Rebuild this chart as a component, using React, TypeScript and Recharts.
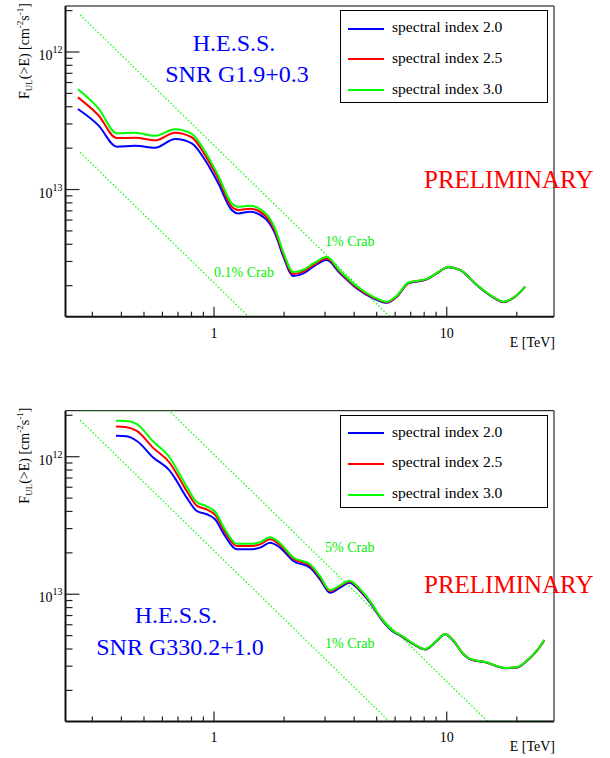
import React from "react";
import { LineChart, Line, XAxis, YAxis, Legend, ReferenceLine } from "recharts";

// axis ranges and ticks
const xMin = 0.23;
const xMax = 28.9;
const yMin = 1.19e-14;
const yMax = 2.16e-12;
const xTicks = [0.3, 0.4, 0.5, 0.6, 0.7, 0.8, 0.9, 1, 2, 3, 4, 5, 6, 7, 8, 9, 10, 20];
const yTicks = [
  2e-14, 3e-14, 4e-14, 5e-14, 6e-14, 7e-14, 8e-14, 9e-14, 1e-13,
  2e-13, 3e-13, 4e-13, 5e-13, 6e-13, 7e-13, 8e-13, 9e-13, 1e-12, 2e-12,
];
const xTickLabels: Record<string, string> = { "1": "1", "10": "10" };
const yTickExponents: Record<string, string> = { "1e-13": "13", "1e-12": "12" };

const seriesNames = ["spectral index 2.0", "spectral index 2.5", "spectral index 3.0"];
const seriesColors = ["#0000ff", "#ff0000", "#00ff00"];

// SNR G1.9+0.3
const g19Energy = [
  0.26, 0.318, 0.382, 0.458, 0.558, 0.68, 0.802, 0.915, 1.043, 1.191, 1.272, 1.428,
  1.656, 1.828, 1.986, 2.192, 2.42, 2.672, 3.05, 3.479, 4.105, 4.837, 5.524, 6.097,
  6.839, 8.208, 9.06, 10.16, 11.4, 13.46, 15.86, 17.51, 19.66, 21.71,
];
const g19Index20 = [
  3.85e-13, 2.94e-13, 2.05e-13, 2.08e-13, 2.01e-13, 2.33e-13, 2.17e-13, 1.64e-13,
  1.11e-13, 7.1e-14, 6.71e-14, 6.9e-14, 6.18e-14, 4.8e-14, 3.25e-14, 2.35e-14,
  2.46e-14, 2.75e-14, 3.07e-14, 2.46e-14, 1.91e-14, 1.62e-14, 1.5e-14, 1.66e-14,
  2.08e-14, 2.22e-14, 2.46e-14, 2.72e-14, 2.6e-14, 2.02e-14, 1.64e-14, 1.52e-14,
  1.66e-14, 1.96e-14,
];
const g19Index25 = [
  4.68e-13, 3.48e-13, 2.37e-13, 2.38e-13, 2.28e-13, 2.59e-13, 2.4e-13, 1.78e-13,
  1.2e-13, 7.52e-14, 7.1e-14, 7.26e-14, 6.48e-14, 5.01e-14, 3.37e-14, 2.43e-14,
  2.54e-14, 2.82e-14, 3.15e-14, 2.51e-14, 1.94e-14, 1.64e-14, 1.515e-14, 1.67e-14,
  2.09e-14, 2.235e-14, 2.47e-14, 2.73e-14, 2.61e-14, 2.03e-14, 1.65e-14, 1.525e-14,
  1.665e-14, 1.97e-14,
];
const g19Index30 = [
  5.36e-13, 3.91e-13, 2.56e-13, 2.59e-13, 2.46e-13, 2.74e-13, 2.54e-13, 1.89e-13,
  1.26e-13, 7.95e-14, 7.5e-14, 7.63e-14, 6.78e-14, 5.22e-14, 3.5e-14, 2.51e-14,
  2.61e-14, 2.9e-14, 3.23e-14, 2.56e-14, 1.98e-14, 1.66e-14, 1.53e-14, 1.69e-14,
  2.11e-14, 2.24e-14, 2.47e-14, 2.73e-14, 2.61e-14, 2.03e-14, 1.65e-14, 1.53e-14,
  1.67e-14, 1.97e-14,
];
const g19Crab1 = [
  { E: 0.266, F: 1.86e-12 },
  { E: 5.69, F: 1.19e-14 },
  { E: 28.5, F: 1.19e-14 },
];
const g19Crab01 = [
  { E: 0.266, F: 1.86e-13 },
  { E: 1.41, F: 1.19e-14 },
  { E: 28.5, F: 1.19e-14 },
];

// SNR G330.2+1.0
const g330Energy = [
  0.379, 0.421, 0.466, 0.549, 0.647, 0.691, 0.763, 0.843, 0.93, 1.01, 1.115, 1.252,
  1.428, 1.577, 1.741, 1.921, 2.192, 2.586, 2.854, 3.151, 3.479, 3.815, 4.241, 4.682,
  5.169, 5.706, 6.511, 7.187, 8.067, 9.06, 9.83, 10.68, 11.79, 12.59, 14.86, 17.81,
  20.0, 22.07, 24.37, 26.27,
];
const g330Index20 = [
  1.42e-12, 1.406e-12, 1.3e-12, 9.83e-13, 7.87e-13, 6.66e-13, 5.04e-13, 4.03e-13,
  3.815e-13, 3.51e-13, 2.652e-13, 2.123e-13, 2.123e-13, 2.182e-13, 2.371e-13, 2.182e-13,
  1.746e-13, 1.561e-13, 1.285e-13, 1.027e-13, 1.117e-13, 1.214e-13, 1.057e-13, 8.69e-14,
  6.76e-14, 5.57e-14, 4.837e-14, 4.33e-14, 3.97e-14, 4.575e-14, 5.12e-14, 4.575e-14,
  3.66e-14, 3.37e-14, 3.184e-14, 2.9e-14, 2.928e-14, 3.276e-14, 3.87e-14, 4.63e-14,
];
const g330Index25 = [
  1.661e-12, 1.639e-12, 1.542e-12, 1.154e-12, 8.96e-13, 7.51e-13, 5.63e-13, 4.41e-13,
  4.14e-13, 3.78e-13, 2.83e-13, 2.244e-13, 2.244e-13, 2.306e-13, 2.506e-13, 2.282e-13,
  1.809e-13, 1.614e-13, 1.325e-13, 1.053e-13, 1.144e-13, 1.238e-13, 1.077e-13, 8.82e-14,
  6.85e-14, 5.63e-14, 4.88e-14, 4.36e-14, 3.99e-14, 4.59e-14, 5.14e-14, 4.62e-14,
  3.68e-14, 3.38e-14, 3.19e-14, 2.91e-14, 2.935e-14, 3.28e-14, 3.88e-14, 4.64e-14,
];
const g330Index30 = [
  1.825e-12, 1.817e-12, 1.728e-12, 1.285e-12, 9.78e-13, 8.14e-13, 6.06e-13, 4.68e-13,
  4.36e-13, 3.98e-13, 2.957e-13, 2.327e-13, 2.327e-13, 2.391e-13, 2.599e-13, 2.352e-13,
  1.851e-13, 1.65e-13, 1.352e-13, 1.071e-13, 1.161e-13, 1.255e-13, 1.09e-13, 8.91e-14,
  6.91e-14, 5.66e-14, 4.9e-14, 4.37e-14, 4.0e-14, 4.6e-14, 5.15e-14, 4.6e-14,
  3.68e-14, 3.39e-14, 3.2e-14, 2.915e-14, 2.943e-14, 3.29e-14, 3.89e-14, 4.65e-14,
];
const g330Crab5 = [
  { E: 0.266, F: 2.16e-12 },
  { E: 0.641, F: 2.16e-12 },
  { E: 15.0, F: 1.19e-14 },
  { E: 28.5, F: 1.19e-14 },
];
const g330Crab1 = [
  { E: 0.266, F: 1.84e-12 },
  { E: 5.66, F: 1.19e-14 },
  { E: 28.5, F: 1.19e-14 },
];

const serif = "'Liberation Serif', 'DejaVu Serif', serif";

const XTick = (props: any) => {
  const { x, y, payload } = props;
  const label = xTickLabels[String(payload.value)];
  return (
    <g>
      <line x1={x} x2={x} y1={y} y2={y - (label ? 10 : 5)} stroke="#222" strokeWidth={1.2} />
      {label && (
        <text x={x} y={y + 21} textAnchor="middle" fontSize={14} fontFamily={serif} fill="#000">
          {label}
        </text>
      )}
    </g>
  );
};

const YTick = (props: any) => {
  const { x, y, payload } = props;
  const exp = yTickExponents[String(payload.value)];
  return (
    <g>
      <line x1={x} x2={x + (exp ? 14 : 7)} y1={y} y2={y} stroke="#222" strokeWidth={1.2} />
      {exp && (
        <text x={x - 3} y={y + 8} textAnchor="end" fontSize={14} fontFamily={serif} fill="#000">
          10
          <tspan dy={-7} fontSize={10}>
            {exp}
          </tspan>
        </text>
      )}
    </g>
  );
};

const LegendBox = () => (
  <div
    style={{
      width: 208,
      height: 93,
      boxSizing: "border-box",
      border: "1px solid #000",
      background: "#fff",
      position: "relative",
      fontFamily: serif,
      fontSize: 15.6,
    }}
  >
    {seriesNames.map((name, i) => (
      <div key={name}>
        <div
          style={{
            position: "absolute",
            left: 7,
            top: 16.5 + i * 30.8,
            width: 36,
            height: 2,
            background: seriesColors[i],
          }}
        />
        <div style={{ position: "absolute", left: 51, top: 7 + i * 30.8, whiteSpace: "nowrap" }}>
          {name}
        </div>
      </div>
    ))}
  </div>
);

type CrabLine = { label: string; points: { E: number; F: number }[]; lx: number; ly: number };

type PanelProps = {
  energy: number[];
  index20: number[];
  index25: number[];
  index30: number[];
  crab: CrabLine[];
  title: string[];
  titleX: number[];
  titleY: number[];
  plotTop: number;
};

const Panel = ({ energy, index20, index25, index30, crab, title, titleX, titleY, plotTop }: PanelProps) => {
  const data = energy.map((E, i) => ({ E, i20: index20[i], i25: index25[i], i30: index30[i] }));
  const plotH = 310.7;
  const bottom = 379 - plotTop - plotH - 30;
  return (
    <div style={{ position: "relative", width: 610, height: 379 }}>
      <LineChart
        width={610}
        height={379}
        data={data}
        margin={{ top: plotTop, right: 56, bottom, left: 5.5 }}
      >
        <XAxis
          dataKey="E"
          type="number"
          scale="log"
          domain={[xMin, xMax]}
          allowDataOverflow
          ticks={xTicks}
          interval={0}
          tick={(p: any) => <XTick {...p} />}
          tickLine={false}
          tickSize={0}
          tickMargin={0}
          height={30}
          axisLine={{ stroke: "#111", strokeWidth: 2 }}
        />
        <YAxis
          type="number"
          scale="log"
          domain={[yMin, yMax]}
          allowDataOverflow
          ticks={yTicks}
          interval={0}
          tick={(p: any) => <YTick {...p} />}
          tickLine={false}
          tickSize={0}
          tickMargin={0}
          width={60}
          axisLine={{ stroke: "#111", strokeWidth: 2 }}
        />
        <ReferenceLine y={yMax} stroke="#000" strokeWidth={1} />
        <ReferenceLine x={xMax} stroke="#000" strokeWidth={1} />
        {crab.map((c) => (
          <Line
            key={c.label}
            data={c.points}
            dataKey="F"
            type="linear"
            stroke="#00ff00"
            strokeWidth={1.2}
            strokeDasharray="1.5 2"
            dot={false}
            legendType="none"
            isAnimationActive={false}
          />
        ))}
        <Line dataKey="i20" name={seriesNames[0]} type="monotone" stroke={seriesColors[0]} strokeWidth={2} dot={false} isAnimationActive={false} />
        <Line dataKey="i25" name={seriesNames[1]} type="monotone" stroke={seriesColors[1]} strokeWidth={2} dot={false} isAnimationActive={false} />
        <Line dataKey="i30" name={seriesNames[2]} type="monotone" stroke={seriesColors[2]} strokeWidth={2} dot={false} isAnimationActive={false} />
        <Legend
          layout="horizontal"
          verticalAlign="middle"
          align="center"
          content={() => <LegendBox />}
          wrapperStyle={{ left: 340, top: plotTop + 4, width: 208, height: 93 }}
        />
      </LineChart>
      <svg
        width={610}
        height={379}
        style={{ position: "absolute", left: 0, top: 0, pointerEvents: "none" }}
      >
        <text transform={`translate(29, ${plotTop - 3}) rotate(-90)`} textAnchor="end" fontSize={14} fontFamily={serif} fill="#000">
          F<tspan fontSize={9} dy={3}>UL</tspan>
          <tspan dy={-3}>(&gt;E) [cm</tspan>
          <tspan fontSize={9} dy={-6}>-2</tspan>
          <tspan dy={6}>s</tspan>
          <tspan fontSize={9} dy={-6}>-1</tspan>
          <tspan dy={6}>]</tspan>
        </text>
        <text x={555} y={plotTop + plotH + 30} textAnchor="end" fontSize={14} fontFamily={serif} fill="#000">
          E [TeV]
        </text>
        {title.map((t, i) => (
          <text key={t} x={titleX[i]} y={titleY[i]} textAnchor="middle" fontSize={24} fontFamily={serif} fill="#0000ff">
            {t}
          </text>
        ))}
        <text x={424} y={plotTop + 182} fontSize={25} fontFamily={serif} fill="#ff0000">
          PRELIMINARY
        </text>
        {crab.map((c) => (
          <text key={c.label} x={c.lx} y={c.ly} fontSize={14} fontFamily={serif} fill="#00ee00">
            {c.label}
          </text>
        ))}
      </svg>
    </div>
  );
};

export default function App() {
  return (
    <div style={{ position: "absolute", left: 0, top: 0, width: 610, height: 758, background: "#fff" }}>
      <Panel
        energy={g19Energy}
        index20={g19Index20}
        index25={g19Index25}
        index30={g19Index30}
        crab={[
          { label: "1% Crab", points: g19Crab1, lx: 325, ly: 245.5 },
          { label: "0.1% Crab", points: g19Crab01, lx: 214, ly: 276.7 },
        ]}
        title={["H.E.S.S.", "SNR G1.9+0.3"]}
        titleX={[234, 237]}
        titleY={[51, 82]}
        plotTop={6}
      />
      <Panel
        energy={g330Energy}
        index20={g330Index20}
        index25={g330Index25}
        index30={g330Index30}
        crab={[
          { label: "5% Crab", points: g330Crab5, lx: 325, ly: 173.3 },
          { label: "1% Crab", points: g330Crab1, lx: 325, ly: 269.3 },
        ]}
        title={["H.E.S.S.", "SNR G330.2+1.0"]}
        titleX={[176, 180]}
        titleY={[244, 276]}
        plotTop={31.7}
      />
    </div>
  );
}
